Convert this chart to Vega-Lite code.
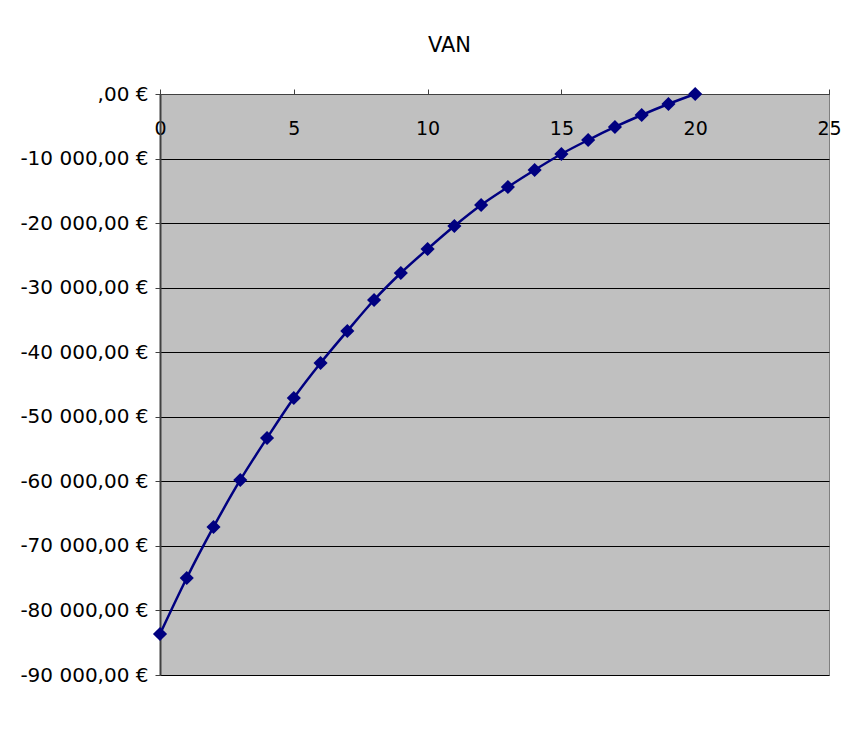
{
  "$schema": "https://vega.github.io/schema/vega-lite/v6.json",
  "width": 669,
  "height": 581,
  "autosize": {"type": "none"},
  "padding": {"left": 160, "top": 94, "right": 32, "bottom": 73},
  "background": "white",
  "title": {
    "text": "VAN",
    "font": "DejaVu Sans",
    "fontSize": 21,
    "fontWeight": "normal",
    "color": "black",
    "anchor": "middle",
    "dx": -45,
    "offset": 28
  },
  "config": {
    "view": {"fill": "#C0C0C0", "stroke": "#808080", "strokeWidth": 1},
    "axis": {"labelFont": "DejaVu Sans", "labelFontSize": 20, "labelColor": "black"}
  },
  "data": {
    "values": [
      {"n": 0, "van": -83650},
      {"n": 1, "van": -74970},
      {"n": 2, "van": -67070},
      {"n": 3, "van": -59790},
      {"n": 4, "van": -53290},
      {"n": 5, "van": -47090},
      {"n": 6, "van": -41670},
      {"n": 7, "van": -36710},
      {"n": 8, "van": -31910},
      {"n": 9, "van": -27730},
      {"n": 10, "van": -24010},
      {"n": 11, "van": -20450},
      {"n": 12, "van": -17190},
      {"n": 13, "van": -14410},
      {"n": 14, "van": -11770},
      {"n": 15, "van": -9290},
      {"n": 16, "van": -7130},
      {"n": 17, "van": -5110},
      {"n": 18, "van": -3250},
      {"n": 19, "van": -1550},
      {"n": 20, "van": 0}
    ]
  },
  "encoding": {
    "x": {
      "field": "n",
      "type": "quantitative",
      "scale": {"domain": [0, 25], "nice": false, "zero": false},
      "axis": {
        "orient": "top",
        "title": null,
        "values": [0, 5, 10, 15, 20, 25],
        "grid": false,
        "domainColor": "#404040",
        "tickColor": "#404040",
        "tickSize": 5,
        "labelFontSize": 19,
        "labelBaseline": "top",
        "labelPadding": -30,
        "labelFlush": false,
        "labelOverlap": false
      }
    },
    "y": {
      "field": "van",
      "type": "quantitative",
      "scale": {"domain": [-90000, 0], "nice": false},
      "axis": {
        "title": null,
        "values": [0, -10000, -20000, -30000, -40000, -50000, -60000, -70000, -80000, -90000],
        "grid": true,
        "gridColor": "black",
        "gridWidth": 1,
        "gridOpacity": 1,
        "domainColor": "#404040",
        "domainWidth": 2,
        "tickColor": "#404040",
        "tickSize": 5,
        "labelPadding": 7,
        "labelOverlap": false,
        "labelExpr": "datum.value == 0 ? ',00 €' : '-' + replace(replace(format(abs(datum.value), ',.2f'), ',', ' '), '.', ',') + ' €'"
      }
    }
  },
  "layer": [
    {
      "mark": {"type": "line", "color": "#000080", "strokeWidth": 2.5, "interpolate": "monotone"}
    },
    {
      "mark": {"type": "point", "shape": "diamond", "filled": true, "color": "#000080", "size": 200, "opacity": 1}
    }
  ]
}
